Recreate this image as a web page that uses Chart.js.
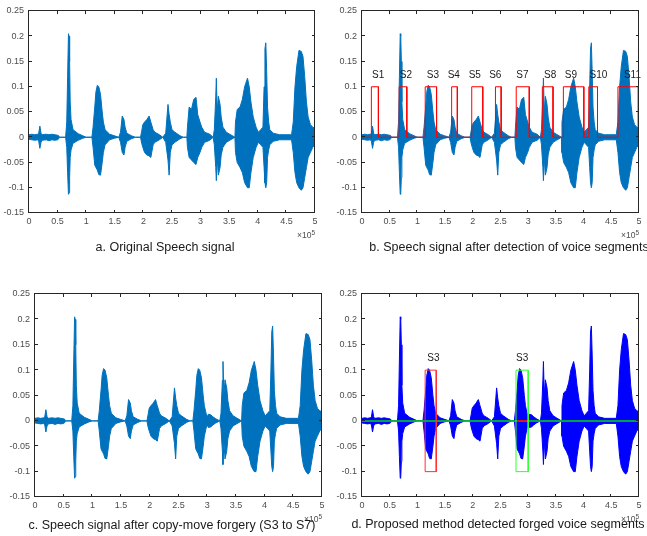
<!DOCTYPE html>
<html>
<head>
<meta charset="utf-8">
<script src="https://cdn.jsdelivr.net/npm/chart.js@4.4.0/dist/chart.umd.min.js"></script>
<style>
  body { margin: 0; background: #fff; width: 647px; height: 536px; position: relative; overflow: hidden; font-family: "Liberation Sans", Arial, sans-serif; }
  canvas { position: absolute; }
  .cap { position: absolute; font-size: 12.5px; line-height: 1; color: #1a1a1a; white-space: nowrap; transform: translate(-50%, -50%); }
</style>
</head>
<body>
<canvas id="pa" width="330" height="262" style="left:0;top:0;width:330px;height:262px"></canvas>
<canvas id="pb" width="317" height="262" style="left:330px;top:0;width:317px;height:262px"></canvas>
<canvas id="pc" width="330" height="266" style="left:0;top:270px;width:330px;height:266px"></canvas>
<canvas id="pd" width="317" height="266" style="left:330px;top:270px;width:317px;height:266px"></canvas>
<div class="cap" style="left:165px;top:247px">a. Original Speech signal</div>
<div class="cap" style="left:509px;top:247px">b. Speech signal after detection of voice segments</div>
<div class="cap" style="left:172px;top:525px">c. Speech signal after copy-move forgery (S3 to S7)</div>
<div class="cap" style="left:498px;top:524px">d. Proposed method detected forged voice segments</div>
<script>
// axis ticks (x in units of 1e5 samples)
const xTicks = [0, 0.5, 1, 1.5, 2, 2.5, 3, 3.5, 4, 4.5, 5];
const xTickLabels = ['0', '0.5', '1', '1.5', '2', '2.5', '3', '3.5', '4', '4.5', '5'];
const yTicks = [-0.15, -0.1, -0.05, 0, 0.05, 0.1, 0.15, 0.2, 0.25];
const yTickLabels = ['-0.15', '-0.1', '-0.05', '0', '0.05', '0.1', '0.15', '0.2', '0.25'];

// envelope of the original speech signal
const origX = [0, 0.05, 0.10, 0.15, 0.17, 0.19, 0.21, 0.23, 0.30, 0.35, 0.40, 0.45, 0.50, 0.52, 0.53,
  0.64, 0.66, 0.675, 0.69, 0.70, 0.71, 0.72, 0.735, 0.77, 0.86, 0.94, 1.00,
  1.10, 1.12, 1.15, 1.17, 1.195, 1.22, 1.25, 1.28, 1.30, 1.33, 1.41, 1.49, 1.57,
  1.60, 1.63, 1.66, 1.68, 1.71, 1.79, 1.86,
  1.95, 1.97, 1.99, 2.02, 2.06, 2.10, 2.13, 2.17, 2.20, 2.28, 2.34,
  2.39, 2.43, 2.45, 2.47, 2.50, 2.55, 2.64, 2.70,
  2.76, 2.77, 2.80, 2.84, 2.88, 2.92, 2.95, 2.99, 3.02, 3.07, 3.16, 3.22,
  3.24, 3.265, 3.275, 3.29, 3.31, 3.34, 3.36, 3.39, 3.45, 3.51, 3.60,
  3.61, 3.64, 3.69, 3.73, 3.77, 3.82, 3.85, 3.88, 3.92, 3.97, 4.01,
  4.05, 4.09, 4.11, 4.125, 4.14, 4.155, 4.17, 4.19, 4.21, 4.27, 4.38, 4.59,
  4.62, 4.65, 4.68, 4.72, 4.76, 4.79, 4.82, 4.85, 4.88, 4.92, 4.96, 5.00];
const origTop = [0.005, 0.006, 0.005, 0.006, 0.008, 0.022, 0.008, 0.005, 0.006, 0.005, 0.006, 0.005, 0.004, 0.003, 0,
  0, 0.03, 0.12, 0.205, 0.2, 0.15, 0.07, 0.035, 0.015, 0.007, 0.003, 0,
  0, 0.02, 0.06, 0.09, 0.103, 0.1, 0.085, 0.05, 0.03, 0.015, 0.006, 0.003, 0,
  0.01, 0.042, 0.035, 0.02, 0.008, 0.003, 0,
  0, 0.012, 0.025, 0.03, 0.035, 0.042, 0.03, 0.015, 0.01, 0.005, 0,
  0.008, 0.065, 0.045, 0.03, 0.015, 0.01, 0.003, 0,
  0, 0.02, 0.06, 0.055, 0.075, 0.079, 0.045, 0.03, 0.02, 0.01, 0.006, 0,
  0.015, 0.08, 0.117, 0.05, 0.081, 0.065, 0.04, 0.02, 0.01, 0.006, 0,
  0.03, 0.055, 0.06, 0.075, 0.1, 0.117, 0.1, 0.07, 0.04, 0.02, 0.01,
  0.015, 0.02, 0.1, 0.175, 0.187, 0.13, 0.06, 0.03, 0.015, 0.008, 0.005, 0.005,
  0.03, 0.1, 0.14, 0.172, 0.17, 0.16, 0.12, 0.07, 0.04, 0.025, 0.02, 0.018];
const origBot = [-0.004, -0.005, -0.006, -0.005, -0.008, -0.022, -0.01, -0.006, -0.005, -0.007, -0.005, -0.006, -0.005, -0.003, 0,
  0, -0.02, -0.07, -0.113, -0.11, -0.08, -0.04, -0.025, -0.012, -0.006, -0.002, 0,
  0, -0.02, -0.055, -0.06, -0.065, -0.074, -0.075, -0.05, -0.03, -0.015, -0.005, -0.002, 0,
  -0.01, -0.03, -0.035, -0.02, -0.008, -0.003, 0,
  0, -0.012, -0.02, -0.03, -0.035, -0.037, -0.04, -0.015, -0.01, -0.005, 0,
  -0.01, -0.045, -0.075, -0.03, -0.015, -0.01, -0.003, 0,
  0, -0.02, -0.04, -0.045, -0.05, -0.054, -0.04, -0.03, -0.02, -0.01, -0.006, 0,
  -0.015, -0.06, -0.086, -0.04, -0.075, -0.06, -0.035, -0.02, -0.01, -0.006, 0,
  -0.03, -0.05, -0.06, -0.07, -0.09, -0.1, -0.1, -0.07, -0.04, -0.02, -0.01,
  -0.015, -0.02, -0.06, -0.09, -0.1, -0.09, -0.04, -0.025, -0.015, -0.008, -0.005, -0.005,
  -0.03, -0.07, -0.09, -0.1, -0.105, -0.1, -0.08, -0.06, -0.04, -0.03, -0.02, -0.015];

// copied S3 piece as it appears at the S7 position of the forged signal
const forgedX = [2.75, 2.77, 2.80, 2.82, 2.845, 2.87, 2.90, 2.93, 2.95, 2.98, 3.00, 3.02, 3.06, 3.10, 3.15, 3.22];
const forgedTop = [0, 0.02, 0.06, 0.09, 0.103, 0.1, 0.085, 0.05, 0.03, 0.015, 0.008, 0.013, 0.012, 0.008, 0.004, 0];
const forgedBot = [0, -0.02, -0.055, -0.06, -0.065, -0.074, -0.075, -0.05, -0.03, -0.015, -0.008, -0.013, -0.012, -0.008, -0.004, 0];

// detected voice segments
const segNames = ['S1', 'S2', 'S3', 'S4', 'S5', 'S6', 'S7', 'S8', 'S9', 'S10', 'S11'];
const segStart = [0.169, 0.671, 1.141, 1.618, 1.981, 2.409, 2.784, 3.255, 3.635, 4.094, 4.620];
const segEnd = [0.296, 0.809, 1.346, 1.721, 2.180, 2.512, 3.019, 3.448, 4.004, 4.251, 4.988];
const segLabelX = [0.181, 0.682, 1.171, 1.546, 1.926, 2.295, 2.784, 3.285, 3.659, 4.106, 4.728];
const segHeight = 0.1;
const labelY = 0.123;

// forged segment boxes in panel d
const srcBox = [1.14, 1.34];
const dstBox = [2.78, 3.0];
const boxLow = -0.1, boxHigh = 0.1;
const dLabelX = [1.18, 2.78];
const dLabelText = ['S3', 'S3'];

Chart.defaults.font.family = '"Liberation Sans", Arial, sans-serif';

const blue = '#0072BD';
const tickColor = '#4d4d4d';

function pts(xs, ys) {
    return xs.map((x, i) => ({ x: x, y: ys[i] }));
}

// forged signal = original with the S3 piece placed over S7
const lo = forgedX[0], hi = forgedX[forgedX.length - 1];
const fX = [], fTop = [], fBot = [];
origX.forEach((x, i) => {
    if (x < lo) { fX.push(x); fTop.push(origTop[i]); fBot.push(origBot[i]); }
});
forgedX.forEach((x, i) => { fX.push(x); fTop.push(forgedTop[i]); fBot.push(forgedBot[i]); });
origX.forEach((x, i) => {
    if (x > hi) { fX.push(x); fTop.push(origTop[i]); fBot.push(origBot[i]); }
});

function waveSets(xs, top, bot, color) {
    return [
        { data: pts(xs, top), borderColor: color, backgroundColor: color, borderWidth: 1, fill: '+1' },
        { data: pts(xs, bot), borderColor: color, backgroundColor: color, borderWidth: 1, fill: false }
    ];
}

// step line for the segment detection
const stepPts = [{ x: 0, y: 0 }];
segStart.forEach((s, i) => {
    stepPts.push({ x: s, y: 0 }, { x: s, y: segHeight }, { x: segEnd[i], y: segHeight }, { x: segEnd[i], y: 0 });
});
stepPts.push({ x: 5, y: 0 });

function boxPts(b) {
    return [{ x: b[0], y: boxLow }, { x: b[0], y: boxHigh }, { x: b[1], y: boxHigh }, { x: b[1], y: boxLow }, { x: b[0], y: boxLow }];
}

// box, inward ticks and the x10^5 note
const frame = {
    id: 'frame',
    afterDraw(chart) {
        const { ctx, chartArea: a, scales: { x, y } } = chart;
        ctx.save();
        ctx.strokeStyle = '#262626';
        ctx.lineWidth = 1;
        ctx.beginPath();
        xTicks.forEach(v => {
            const px = Math.round(x.getPixelForValue(v)) - 0.5;
            ctx.moveTo(px, a.bottom); ctx.lineTo(px, a.bottom - 3);
            ctx.moveTo(px, a.top); ctx.lineTo(px, a.top + 3);
        });
        yTicks.forEach(v => {
            const py = Math.round(y.getPixelForValue(v)) - 0.5;
            ctx.moveTo(a.left, py); ctx.lineTo(a.left + 3, py);
            ctx.moveTo(a.right, py); ctx.lineTo(a.right - 3, py);
        });
        ctx.stroke();
        ctx.strokeRect(a.left - 0.5, a.top - 0.5, a.right - a.left, a.bottom - a.top);
        ctx.fillStyle = tickColor;
        ctx.textAlign = 'right';
        ctx.textBaseline = 'middle';
        ctx.font = '6.5px "Liberation Sans"';
        const w5 = ctx.measureText('5').width;
        ctx.fillText('5', a.right, a.bottom + 20);
        ctx.font = '8.5px "Liberation Sans"';
        ctx.fillText('\u00d710', a.right - w5, a.bottom + 23);
        ctx.restore();
    }
};

function textPlugin(names, xs) {
    return {
        id: 'segText',
        afterDatasetsDraw(chart) {
            const { ctx, scales: { x, y } } = chart;
            ctx.save();
            ctx.fillStyle = '#1a1a1a';
            ctx.font = '10px "Liberation Sans"';
            ctx.textAlign = 'left';
            ctx.textBaseline = 'middle';
            names.forEach((n, i) => ctx.fillText(n, x.getPixelForValue(xs[i]), y.getPixelForValue(labelY)));
            ctx.restore();
        }
    };
}

function makePanel(id, geo, datasets, plugins) {
    return new Chart(document.getElementById(id), {
        type: 'line',
        data: { datasets: datasets },
        options: {
            responsive: false,
            animation: false,
            events: [],
            layout: { padding: { top: geo.padT, right: geo.padR, left: 0, bottom: 0 } },
            plugins: { legend: { display: false }, tooltip: { enabled: false } },
            elements: { point: { radius: 0 }, line: { tension: 0 } },
            scales: {
                x: {
                    type: 'linear', min: 0, max: 5,
                    afterBuildTicks: s => { s.ticks = xTicks.map(v => ({ value: v })); },
                    afterFit: s => { s.height = geo.xH; },
                    grid: { display: false, drawTicks: false },
                    border: { display: false },
                    ticks: { padding: 3, color: tickColor, font: { size: 9 }, maxRotation: 0, autoSkip: false,
                        callback: (v, i) => xTickLabels[i] }
                },
                y: {
                    type: 'linear', min: -0.15, max: 0.25,
                    afterBuildTicks: s => { s.ticks = yTicks.map(v => ({ value: v })); },
                    afterFit: s => { s.width = geo.yW; },
                    grid: { display: false, drawTicks: false },
                    border: { display: false },
                    ticks: { padding: 5, color: tickColor, font: { size: 9 }, autoSkip: false,
                        callback: (v, i) => yTickLabels[i] }
                }
            }
        },
        plugins: [frame].concat(plugins || [])
    });
}

makePanel('pa', { yW: 29, padR: 15, padT: 11, xH: 49 }, waveSets(origX, origTop, origBot, blue));

makePanel('pb', { yW: 32, padR: 8, padT: 11, xH: 49 },
    [{ data: stepPts, borderColor: '#ff0000', borderWidth: 1, fill: false }]
        .concat(waveSets(origX, origTop, origBot, blue)),
    [textPlugin(segNames, segLabelX)]);

makePanel('pc', { yW: 35, padR: 8, padT: 24, xH: 39 }, waveSets(fX, fTop, fBot, blue));

makePanel('pd', { yW: 32, padR: 8, padT: 24, xH: 39 },
    [
        { data: boxPts(srcBox), borderColor: '#ff3030', borderWidth: 1, fill: false },
        { data: boxPts(dstBox), borderColor: '#30ff30', borderWidth: 1, fill: false },
        { data: [{ x: 2.80, y: 0 }, { x: 2.98, y: 0 }], borderColor: '#ff0000', borderWidth: 1.5, fill: false },
        { data: [{ x: 0, y: 0 }, { x: 5, y: 0 }], borderColor: '#00dd00', borderWidth: 1.5, fill: false }
    ].concat(waveSets(fX, fTop, fBot, '#0000ff')),
    [textPlugin(dLabelText, dLabelX)]);
</script>
</body>
</html>
